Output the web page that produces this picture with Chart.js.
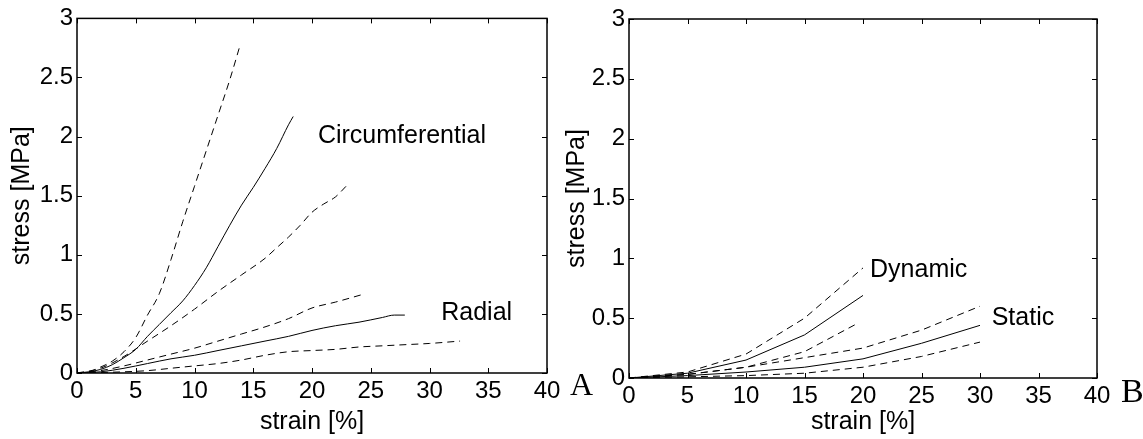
<!DOCTYPE html>
<html><head><meta charset="utf-8">
<script src="https://cdn.jsdelivr.net/npm/chart.js@4.4.0/dist/chart.umd.min.js"></script>
<style>
html,body{margin:0;padding:0;background:#fff;width:1143px;height:439px;overflow:hidden;}
.wrap{position:absolute;top:0;height:439px;}
#w1{left:0;width:600px;}
#w2{left:560px;width:583px;}
</style></head><body>
<div class="wrap" id="w1"><canvas id="c1"></canvas></div>
<div class="wrap" id="w2"><canvas id="c2"></canvas></div>
<script>
// ---- tick labels ----
const strainTicks = [0, 5, 10, 15, 20, 25, 30, 35, 40];
const stressTicks = [0, 0.5, 1, 1.5, 2, 2.5, 3];

// ---- Panel A: circumferential ----
const circUpperStrain = [0, 1, 2, 3, 4, 5, 6, 7, 8, 9, 10, 11, 12, 13, 13.9];
const circUpperStress = [0, 0.01, 0.05, 0.10, 0.18, 0.30, 0.49, 0.67, 0.96, 1.28, 1.58, 1.88, 2.18, 2.48, 2.78];
const circMeanStrain = [0, 1, 2, 3, 4, 5, 6, 7, 8, 9, 10, 11, 12, 13, 14, 15, 16, 17, 18, 18.4];
const circMeanStress = [0, 0.01, 0.03, 0.07, 0.13, 0.20, 0.31, 0.41, 0.51, 0.61, 0.74, 0.89, 1.07, 1.25, 1.42, 1.57, 1.73, 1.90, 2.10, 2.17];
const circLowerStrain = [0, 2, 4, 6, 8, 10, 12, 14, 16, 17, 18, 19, 20, 21, 22, 22.9];
const circLowerStress = [0, 0.04, 0.14, 0.27, 0.40, 0.54, 0.69, 0.83, 0.97, 1.06, 1.15, 1.25, 1.36, 1.43, 1.49, 1.58];
// ---- Panel A: radial ----
const radUpperStrain = [0, 2, 4, 6, 8, 10, 12, 14, 16, 18, 20, 22, 24.5];
const radUpperStress = [0, 0.02, 0.06, 0.11, 0.16, 0.21, 0.27, 0.33, 0.39, 0.46, 0.55, 0.60, 0.67];
const radMeanStrain = [0, 2, 4, 6, 8, 10, 12, 14, 16, 18, 20, 22, 24, 26, 27, 27.9];
const radMeanStress = [0, 0.01, 0.04, 0.08, 0.12, 0.15, 0.19, 0.23, 0.27, 0.31, 0.36, 0.40, 0.43, 0.47, 0.49, 0.49];
const radLowerStrain = [0, 4, 6, 8, 10, 12, 14, 16, 18, 20, 22, 24, 26, 28, 30, 32.6];
const radLowerStress = [0, 0.01, 0.02, 0.04, 0.06, 0.08, 0.11, 0.15, 0.18, 0.19, 0.20, 0.22, 0.23, 0.24, 0.25, 0.27];

// ---- Panel B: dynamic ----
const dynStrain = [0, 5, 10, 15, 20];
const dynUpperStress = [0, 0.05, 0.20, 0.50, 0.92];
const dynMeanStress = [0, 0.04, 0.15, 0.36, 0.69];
const dynLowerStrain = [0, 5, 10, 15, 19.6];
const dynLowerStress = [0, 0.03, 0.09, 0.22, 0.46];
// ---- Panel B: static ----
const statStrain = [0, 5, 10, 15, 20, 25, 30];
const statUpperStress = [0, 0.03, 0.09, 0.17, 0.25, 0.40, 0.60];
const statMeanStress = [0, 0.02, 0.05, 0.09, 0.16, 0.29, 0.44];
const statLowerStress = [0, 0.01, 0.02, 0.04, 0.09, 0.18, 0.30];

// ---- annotations ----
const labelsA = [{text: 'Circumferential', x: 20.5, y: 2.0}, {text: 'Radial', x: 31.0, y: 0.51}];
const labelsB = [{text: 'Dynamic', x: 20.6, y: 0.90}, {text: 'Static', x: 31.0, y: 0.50}];

const SANS = '"Liberation Sans", Arial, Helvetica, sans-serif';
const SERIF = '"Liberation Serif", "Times New Roman", serif';

function pts(xs, ys) { return xs.map((x, i) => ({x: x, y: ys[i]})); }
function line(xs, ys, dashed, smooth) {
  return {
    data: pts(xs, ys), showLine: true, borderColor: '#000', borderWidth: 1,
    borderDash: dashed ? [7, 5] : [], pointRadius: 0, fill: false,
    tension: smooth ? 0.4 : 0, cubicInterpolationMode: smooth ? 'monotone' : 'default'
  };
}

const boxPlugin = {
  id: 'box',
  afterDatasetsDraw(chart, args, opts) {
    const {ctx, chartArea: a, scales: {x, y}} = chart;
    ctx.save();
    ctx.strokeStyle = '#000';
    ctx.lineWidth = 1.5;
    ctx.strokeRect(a.left, a.top, a.right - a.left, a.bottom - a.top);
    ctx.lineWidth = 1;
    const L = 5;
    ctx.beginPath();
    x.ticks.forEach(t => {
      const px = Math.round(x.getPixelForValue(t.value)) + 0.5;
      ctx.moveTo(px, a.bottom); ctx.lineTo(px, a.bottom - L);
      ctx.moveTo(px, a.top); ctx.lineTo(px, a.top + L);
    });
    y.ticks.forEach(t => {
      const py = Math.round(y.getPixelForValue(t.value)) + 0.5;
      ctx.moveTo(a.left, py); ctx.lineTo(a.left + L, py);
      ctx.moveTo(a.right, py); ctx.lineTo(a.right - L, py);
    });
    ctx.stroke();
    ctx.fillStyle = '#000';
    ctx.font = '25px ' + SANS;
    ctx.textAlign = 'left';
    ctx.textBaseline = 'middle';
    (opts.labels || []).forEach(l => {
      ctx.fillText(l.text, x.getPixelForValue(l.x), y.getPixelForValue(l.y));
    });
    if (opts.corner) {
      ctx.font = opts.corner.size + 'px ' + SERIF;
      ctx.textBaseline = 'alphabetic';
      ctx.fillText(opts.corner.text, a.right + opts.corner.dx, a.bottom + opts.corner.dy);
    }
    ctx.restore();
  }
};

function makeChart(id, datasets, g, labels, corner) {
  return new Chart(document.getElementById(id), {
    type: 'scatter',
    data: {datasets: datasets},
    plugins: [boxPlugin],
    options: {
      responsive: true, maintainAspectRatio: false, animation: false, devicePixelRatio: 1,
      layout: {autoPadding: false, padding: {top: g.top, right: g.right, left: 0, bottom: 0}},
      plugins: {legend: {display: false}, tooltip: {enabled: false}, box: {labels: labels, corner: corner}},
      scales: {
        x: {
          type: 'linear', min: 0, max: 40,
          afterBuildTicks: s => { s.ticks = strainTicks.map(v => ({value: v})); },
          afterFit: s => { s.height = g.xh; },
          grid: {display: false, drawTicks: false}, border: {display: false},
          ticks: {color: '#000', font: {family: SANS, size: 24}, padding: 4, maxRotation: 0, autoSkip: false,
                  callback: v => String(v)},
          title: {display: true, text: 'strain [%]', color: '#000', font: {family: SANS, size: 25}, padding: {top: 0, bottom: 2}}
        },
        y: {
          type: 'linear', min: 0, max: 3,
          afterBuildTicks: s => { s.ticks = stressTicks.map(v => ({value: v})); },
          afterFit: s => { s.width = g.yw; },
          grid: {display: false, drawTicks: false}, border: {display: false},
          ticks: {color: '#000', font: {family: SANS, size: 24}, padding: 4, autoSkip: false,
                  callback: v => String(v)},
          title: {display: true, text: 'stress [MPa]', color: '#000', font: {family: SANS, size: 25}, padding: {top: g.tp, bottom: 0}}
        }
      }
    }
  });
}

makeChart('c1', [
  line(circUpperStrain, circUpperStress, true, true),
  line(circMeanStrain, circMeanStress, false, true),
  line(circLowerStrain, circLowerStress, true, true),
  line(radUpperStrain, radUpperStress, true, true),
  line(radMeanStrain, radMeanStress, false, true),
  line(radLowerStrain, radLowerStress, true, true)
], {top: 15, right: 53, xh: 66, yw: 77, tp: 7}, labelsA, {text: 'A', size: 32, dx: 23, dy: 22});

makeChart('c2', [
  line(dynStrain, dynUpperStress, true, false),
  line(dynStrain, dynMeanStress, false, false),
  line(dynLowerStrain, dynLowerStress, true, false),
  line(statStrain, statUpperStress, true, false),
  line(statStrain, statMeanStress, false, false),
  line(statStrain, statLowerStress, true, false)
], {top: 19, right: 46, xh: 61, yw: 69, tp: 2}, labelsB, {text: 'B', size: 34, dx: 24, dy: 24});
</script>
</body></html>
